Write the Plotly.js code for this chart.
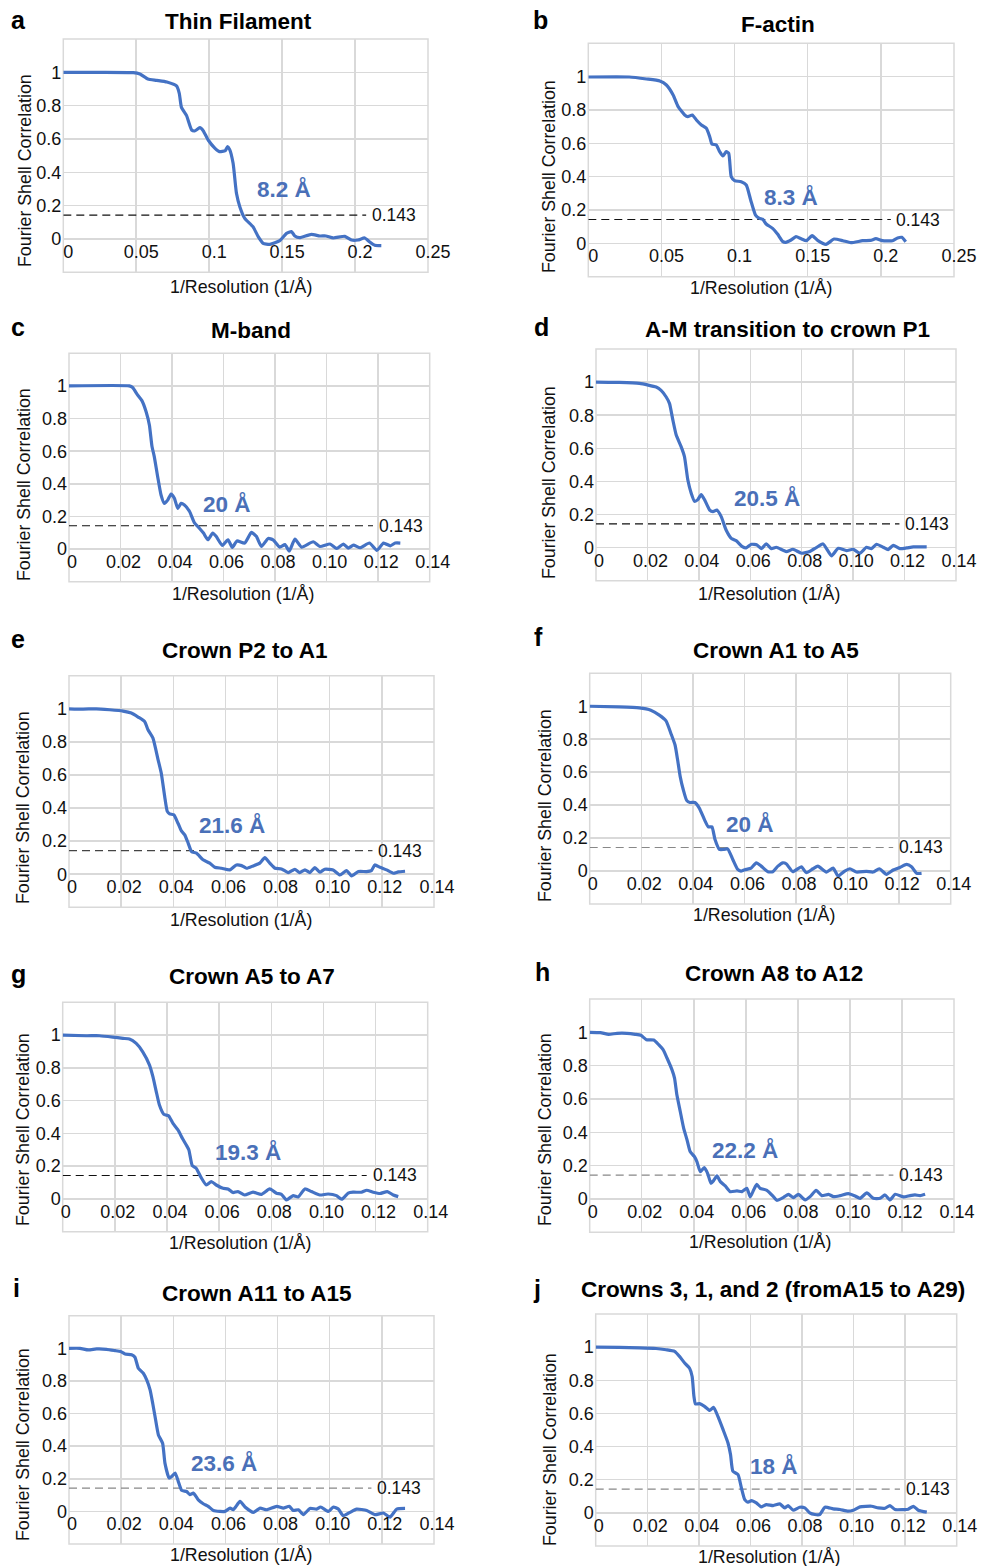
<!DOCTYPE html>
<html>
<head>
<meta charset="utf-8">
<script src="https://cdn.plot.ly/plotly-3.0.1.min.js"></script>
<style>
html,body{margin:0;padding:0;background:#fff;}
#chart{width:981px;height:1566px;}
</style>
</head>
<body>
<div id="chart"></div>
<script>
// ---------------- DATA ----------------
const panelLetters = ['a','b','c','d','e','f','g','h','i','j'];
const panelTitles = ['Thin Filament','F-actin','M-band','A-M transition to crown P1','Crown P2 to A1',
  'Crown A1 to A5','Crown A5 to A7','Crown A8 to A12','Crown A11 to A15','Crowns 3, 1, and 2 (fromA15 to A29)'];
const resolutionLabels = ['8.2 Å','8.3 Å','20 Å','20.5 Å','21.6 Å','20 Å','19.3 Å','22.2 Å','23.6 Å','18 Å'];
const fscThreshold = 0.143;
const thresholdLabel = '0.143';
const xTitle = '1/Resolution (1/Å)';
const yTitle = 'Fourier Shell Correlation';

const xTickValsWide = [0, 0.05, 0.1, 0.15, 0.2, 0.25];
const xTickTextWide = ['0', '0.05', '0.1', '0.15', '0.2', '0.25'];
const xTickValsNarrow = [0, 0.02, 0.04, 0.06, 0.08, 0.10, 0.12, 0.14];
const xTickTextNarrow = ['0', '0.02', '0.04', '0.06', '0.08', '0.10', '0.12', '0.14'];
const yTickVals = [-0.2, 0, 0.2, 0.4, 0.6, 0.8, 1, 1.2];
const yTickText = ['', '0', '0.2', '0.4', '0.6', '0.8', '1', ''];

// a: Thin Filament
const thinFilamentX = [0, 0.025, 0.048, 0.0525, 0.058, 0.064, 0.071, 0.0776, 0.0795, 0.081, 0.0845, 0.088, 0.090, 0.0936, 0.0959, 0.0993, 0.104, 0.107, 0.111, 0.1126, 0.114, 0.1164, 0.1187, 0.121, 0.1244, 0.130, 0.1336, 0.137, 0.1416, 0.1484, 0.153, 0.1564, 0.1587, 0.162, 0.170, 0.1758, 0.180, 0.185, 0.193, 0.1975, 0.202, 0.2066, 0.21, 0.2135, 0.218];
const thinFilamentY = [1.0, 1.0, 0.998, 0.99, 0.96, 0.952, 0.942, 0.918, 0.874, 0.79, 0.74, 0.654, 0.648, 0.668, 0.65, 0.594, 0.544, 0.524, 0.53, 0.554, 0.538, 0.454, 0.274, 0.194, 0.124, 0.074, 0.014, -0.026, -0.032, -0.01, 0.034, 0.044, 0.018, 0.008, 0.028, 0.018, 0.018, 0.006, 0.016, -0.006, -0.006, 0.006, -0.018, -0.038, -0.04];

// b: F-actin
const fActinX = [0, 0.028, 0.0398, 0.0489, 0.0534, 0.058, 0.0614, 0.0659, 0.068, 0.0711, 0.0739, 0.0773, 0.0807, 0.083, 0.0845, 0.0875, 0.0898, 0.092, 0.0943, 0.096, 0.0977, 0.1, 0.1045, 0.108, 0.111, 0.1143, 0.117, 0.1193, 0.1216, 0.126, 0.1295, 0.133, 0.135, 0.1386, 0.142, 0.1455, 0.149, 0.153, 0.157, 0.1625, 0.168, 0.174, 0.1795, 0.1875, 0.193, 0.1966, 0.201, 0.208, 0.2114, 0.2143, 0.217];
const fActinY = [0.998, 0.998, 0.986, 0.974, 0.95, 0.89, 0.82, 0.77, 0.76, 0.77, 0.74, 0.71, 0.69, 0.64, 0.596, 0.59, 0.55, 0.524, 0.55, 0.54, 0.40, 0.376, 0.37, 0.35, 0.26, 0.17, 0.15, 0.144, 0.116, 0.09, 0.054, 0.01, 0.006, 0.02, 0.04, 0.028, 0.016, 0.046, 0.016, -0.006, 0.026, 0.016, 0.004, 0.016, 0.018, 0.028, 0.016, 0.016, 0.032, 0.036, 0.01];

// c: M-band
const mBandX = [0, 0.0234, 0.0247, 0.0266, 0.0283, 0.0299, 0.0312, 0.0322, 0.0331, 0.0344, 0.0357, 0.037, 0.0383, 0.0396, 0.0409, 0.0422, 0.0435, 0.0448, 0.0468, 0.0487, 0.0506, 0.0522, 0.0539, 0.0558, 0.0571, 0.0595, 0.0617, 0.0634, 0.0652, 0.0682, 0.0708, 0.0727, 0.0747, 0.0773, 0.0792, 0.0818, 0.0838, 0.0855, 0.0877, 0.0903, 0.0948, 0.0974, 0.1013, 0.1039, 0.1065, 0.1084, 0.1104, 0.113, 0.1166, 0.1195, 0.1221, 0.1247, 0.1266, 0.1286];
const mBandY = [1.0, 1.0, 0.99, 0.945, 0.91, 0.843, 0.76, 0.63, 0.567, 0.445, 0.333, 0.28, 0.30, 0.337, 0.312, 0.25, 0.28, 0.27, 0.23, 0.16, 0.128, 0.098, 0.057, 0.098, 0.078, 0.022, 0.057, 0.01, 0.05, 0.037, 0.102, 0.078, 0.016, 0.065, 0.057, 0.012, 0.027, -0.012, 0.061, 0.012, 0.045, 0.016, 0.031, 0.004, 0.031, 0.006, 0.024, 0.008, 0.037, -0.008, 0.037, 0.02, 0.037, 0.037];

// d: A-M transition to crown P1
const amTransitionX = [0, 0.0091, 0.0169, 0.0234, 0.0253, 0.0273, 0.0286, 0.0299, 0.0312, 0.0331, 0.0344, 0.0357, 0.037, 0.0383, 0.0396, 0.0409, 0.0422, 0.0442, 0.0455, 0.047, 0.0487, 0.0506, 0.0526, 0.0545, 0.0569, 0.0584, 0.0604, 0.0626, 0.0643, 0.0662, 0.0682, 0.0701, 0.074, 0.0766, 0.0799, 0.0831, 0.0857, 0.0883, 0.0916, 0.0942, 0.0974, 0.1, 0.1026, 0.1052, 0.1071, 0.1091, 0.1117, 0.1136, 0.1156, 0.1182, 0.1208, 0.1234, 0.1286];
const amTransitionY = [1.0, 0.998, 0.992, 0.97, 0.95, 0.91, 0.87, 0.77, 0.68, 0.61, 0.55, 0.41, 0.33, 0.28, 0.29, 0.32, 0.29, 0.227, 0.217, 0.227, 0.187, 0.106, 0.056, 0.042, 0.006, -0.002, 0.02, 0.016, -0.006, 0.022, -0.006, 0.002, -0.024, -0.01, -0.034, -0.024, 0, 0.022, -0.05, -0.004, -0.018, -0.01, -0.034, 0.002, -0.006, 0.02, 0.002, -0.012, 0.014, -0.006, -0.002, 0.004, 0.004];

// e: Crown P2 to A1
const crownP2A1X = [0, 0.0054, 0.0105, 0.0156, 0.0207, 0.0239, 0.0265, 0.029, 0.0303, 0.0322, 0.0342, 0.0354, 0.0367, 0.0377, 0.0386, 0.0402, 0.0418, 0.0431, 0.0444, 0.0457, 0.047, 0.0489, 0.0514, 0.054, 0.0559, 0.0585, 0.0617, 0.0642, 0.0662, 0.0681, 0.0706, 0.0732, 0.0751, 0.077, 0.079, 0.0815, 0.0841, 0.0866, 0.0885, 0.0905, 0.0924, 0.0943, 0.0962, 0.0981, 0.1013, 0.1039, 0.1065, 0.1084, 0.111, 0.1141, 0.116, 0.1173, 0.1193, 0.1218, 0.1244, 0.1263, 0.1289];
const crownP2A1Y = [1.0, 0.998, 1.0, 0.994, 0.986, 0.974, 0.95, 0.923, 0.873, 0.823, 0.69, 0.61, 0.47, 0.38, 0.365, 0.359, 0.308, 0.262, 0.238, 0.188, 0.137, 0.127, 0.087, 0.067, 0.042, 0.036, 0.026, 0.056, 0.052, 0.036, 0.05, 0.067, 0.1, 0.067, 0.036, 0.032, 0.01, 0.03, 0.01, 0.026, 0.01, 0.04, 0.012, 0.03, 0.026, -0.004, 0.022, -0.01, 0.016, 0.016, 0.022, 0.056, 0.042, 0.026, 0.006, 0.014, 0.018];

// f: Crown A1 to A5
const crownA1A5X = [0, 0.0114, 0.0192, 0.0237, 0.027, 0.0296, 0.0315, 0.0331, 0.0341, 0.0351, 0.0363, 0.0376, 0.0389, 0.0408, 0.0425, 0.0445, 0.046, 0.0474, 0.0486, 0.0503, 0.0519, 0.0535, 0.0555, 0.0574, 0.0587, 0.0607, 0.0626, 0.0646, 0.0665, 0.0691, 0.071, 0.073, 0.0749, 0.0762, 0.0788, 0.0821, 0.084, 0.0866, 0.0885, 0.0918, 0.0944, 0.0963, 0.0989, 0.1009, 0.1034, 0.1073, 0.1099, 0.1123, 0.1151, 0.1177, 0.1203, 0.1229, 0.1248, 0.1268, 0.1287];
const crownA1A5Y = [1.0, 0.996, 0.99, 0.976, 0.946, 0.911, 0.835, 0.765, 0.674, 0.573, 0.493, 0.429, 0.416, 0.416, 0.382, 0.312, 0.268, 0.268, 0.191, 0.131, 0.131, 0.135, 0.07, 0.01, 0, 0.01, 0.018, 0.05, 0.03, -0.004, -0.004, 0.03, 0.05, 0.044, -0.004, 0.026, -0.01, 0.014, 0.03, -0.006, 0.018, -0.03, 0, 0.014, -0.006, -0.002, -0.006, 0.014, -0.02, 0.006, 0.022, 0.04, 0.026, -0.014, -0.014];

// g: Crown A5 to A7
const crownA5A7X = [0, 0.009, 0.0141, 0.0192, 0.0231, 0.0256, 0.0282, 0.0307, 0.0333, 0.0346, 0.0359, 0.0371, 0.0388, 0.0406, 0.0423, 0.0442, 0.0459, 0.0474, 0.0484, 0.0497, 0.0512, 0.0529, 0.0551, 0.057, 0.0589, 0.0615, 0.0634, 0.0653, 0.0672, 0.0698, 0.073, 0.0762, 0.0794, 0.082, 0.0839, 0.0858, 0.0884, 0.0903, 0.0929, 0.0954, 0.0986, 0.1018, 0.105, 0.107, 0.1095, 0.1114, 0.1146, 0.1166, 0.1191, 0.1217, 0.1245, 0.1268, 0.1287];
const crownA5A7Y = [1.0, 0.996, 0.996, 0.988, 0.98, 0.976, 0.949, 0.898, 0.817, 0.746, 0.654, 0.573, 0.516, 0.508, 0.461, 0.421, 0.37, 0.329, 0.299, 0.203, 0.187, 0.136, 0.085, 0.106, 0.085, 0.065, 0.061, 0.039, 0.045, 0.024, 0.041, 0.028, 0.061, 0.035, 0.028, -0.006, 0.02, 0.012, 0.061, 0.045, 0.024, 0.03, 0.02, -0.002, 0.035, 0.041, 0.041, 0.053, 0.041, 0.033, 0.045, 0.024, 0.014];

// h: Crown A8 to A12
const crownA8A12X = [0, 0.0041, 0.0073, 0.0105, 0.0143, 0.0175, 0.0197, 0.0218, 0.0246, 0.0265, 0.0282, 0.0297, 0.0316, 0.0326, 0.0335, 0.0348, 0.0361, 0.0374, 0.0386, 0.0402, 0.0412, 0.0425, 0.044, 0.0453, 0.0466, 0.0476, 0.0489, 0.0502, 0.0521, 0.054, 0.0566, 0.0585, 0.0604, 0.0617, 0.063, 0.0642, 0.0655, 0.0681, 0.0706, 0.0719, 0.0745, 0.0764, 0.0783, 0.0802, 0.0828, 0.0847, 0.087, 0.0892, 0.0918, 0.0937, 0.0962, 0.0994, 0.102, 0.1039, 0.1065, 0.109, 0.1116, 0.1135, 0.1154, 0.1174, 0.1206, 0.1231, 0.125, 0.127, 0.1289];
const crownA8A12Y = [1.0, 0.998, 0.988, 0.994, 0.994, 0.988, 0.982, 0.956, 0.954, 0.926, 0.896, 0.846, 0.776, 0.725, 0.625, 0.525, 0.425, 0.355, 0.285, 0.255, 0.224, 0.164, 0.188, 0.154, 0.094, 0.11, 0.138, 0.104, 0.078, 0.044, 0.048, 0.044, 0.064, 0.012, 0.054, 0.088, 0.064, 0.052, 0.014, -0.008, 0.01, 0.028, 0.008, 0.028, -0.006, 0.014, 0.052, 0.02, 0.028, 0.014, 0.02, 0.032, 0.018, 0.004, 0.036, 0.004, 0.004, 0.024, -0.006, 0.028, 0.012, 0.02, 0.024, 0.02, 0.028];

// i: Crown A11 to A15
const crownA11A15X = [0, 0.0042, 0.0074, 0.0106, 0.0144, 0.0176, 0.0198, 0.0215, 0.024, 0.0253, 0.0266, 0.0285, 0.0298, 0.0311, 0.0321, 0.033, 0.0343, 0.0359, 0.0368, 0.0384, 0.0394, 0.0407, 0.0419, 0.0432, 0.0451, 0.0464, 0.0477, 0.0496, 0.0515, 0.0534, 0.0554, 0.0579, 0.0598, 0.0618, 0.063, 0.0656, 0.0675, 0.0707, 0.0733, 0.0758, 0.0797, 0.0822, 0.0845, 0.086, 0.088, 0.0899, 0.0924, 0.095, 0.0965, 0.0995, 0.1014, 0.1033, 0.1052, 0.1078, 0.1103, 0.1142, 0.1174, 0.1206, 0.1231, 0.1257, 0.1289];
const crownA11A15Y = [1.0, 1.0, 0.99, 0.996, 0.994, 0.986, 0.98, 0.965, 0.961, 0.945, 0.878, 0.847, 0.806, 0.745, 0.663, 0.582, 0.469, 0.418, 0.296, 0.204, 0.214, 0.235, 0.184, 0.129, 0.122, 0.102, 0.112, 0.071, 0.047, 0.031, 0.006, 0, 0, 0.02, 0.01, 0.061, 0.027, -0.006, 0.02, 0.01, 0.031, 0.02, 0.031, 0.006, 0.01, -0.02, 0.018, 0.014, 0.027, 0, 0.027, 0.014, -0.027, -0.006, 0.014, 0.006, -0.02, -0.01, -0.035, 0.014, 0.018];

// j: Crowns 3, 1, and 2
const crowns312X = [0, 0.0092, 0.017, 0.0234, 0.0273, 0.0306, 0.0325, 0.0345, 0.0364, 0.0374, 0.0381, 0.0387, 0.0403, 0.0422, 0.0442, 0.0457, 0.0474, 0.0494, 0.0513, 0.0523, 0.0532, 0.0552, 0.0565, 0.0578, 0.0591, 0.0604, 0.0623, 0.0642, 0.0662, 0.0688, 0.0714, 0.0733, 0.0746, 0.0766, 0.0791, 0.0811, 0.083, 0.085, 0.0869, 0.0889, 0.0921, 0.0947, 0.0979, 0.0999, 0.1025, 0.107, 0.1096, 0.1122, 0.1141, 0.1161, 0.1193, 0.1212, 0.1232, 0.1251, 0.1284];
const crowns312Y = [1.0, 0.998, 0.996, 0.992, 0.984, 0.974, 0.944, 0.904, 0.873, 0.823, 0.703, 0.657, 0.659, 0.643, 0.618, 0.637, 0.582, 0.502, 0.422, 0.351, 0.251, 0.231, 0.151, 0.08, 0.064, 0.074, 0.06, 0.036, 0.05, 0.044, 0.054, 0.03, 0.044, 0.016, 0.034, 0.03, 0, -0.01, -0.01, 0.034, 0.024, 0.02, 0.01, 0.016, 0.036, 0.04, 0.03, 0.028, 0.044, 0.02, 0.02, 0.022, 0.04, 0.016, 0.004];

const seriesX = [thinFilamentX, fActinX, mBandX, amTransitionX, crownP2A1X, crownA1A5X, crownA5A7X, crownA8A12X, crownA11A15X, crowns312X];
const seriesY = [thinFilamentY, fActinY, mBandY, amTransitionY, crownP2A1Y, crownA1A5Y, crownA5A7Y, crownA8A12Y, crownA11A15Y, crowns312Y];
// x where the dashed 0.143 line stops and the label begins
const thresholdLineEnd = [0.2076, 0.2068, 0.118, 0.118, 0.1164, 0.1177, 0.1166, 0.1167, 0.116, 0.118];

// ---------------- LAYOUT CONFIG (pixels) ----------------
const W = 981, H = 1566;
const FONT = 'Liberation Sans, Arial, Helvetica, sans-serif';
const boxes = [ // left, right, top, bottom (plot frame, px)
  [63.3, 428, 39, 272.3],
  [588.3, 954, 43.3, 276.7],
  [69, 429.7, 353.3, 581.7],
  [596, 956, 349, 580.7],
  [69, 434, 675.7, 907.3],
  [589.7, 950.7, 673.3, 904],
  [62.7, 427.7, 1002.3, 1231.7],
  [589.7, 954, 999, 1232.3],
  [69, 434, 1315.7, 1544],
  [595.7, 956.7, 1314, 1546]
];
const titlePos = [[238,22],[778,25],[251,330],[787,329],[244,651],[776,651],[252,976],[774,974],[257,1293],[773,1289]];
const letterPos = [[18,20],[540,20],[18,327],[541,327],[18,639],[538,637],[18,974],[542,972],[16,1288],[537,1289]];
const xTitlePos = [[241,287],[761,288],[243,594],[769,594],[241,920],[764,915],[240,1243],[760,1242],[241,1555],[769,1557]];
const yTitlePos = [[25,171],[549,177],[24,485],[549,483],[23,808],[545,806],[23,1130],[545,1130],[23,1445],[550,1450]];
const resLabelPos = [[0.151,0.30],[0.1386,0.278],[0.0615,0.277],[0.0665,0.30],[0.0625,0.298],[0.0622,0.283],[0.0711,0.287],[0.0597,0.295],[0.0593,0.298],[0.069,0.285]];
const dashColors = ['#111','#111','#111','#111','#444','#888','#111','#888','#888','#888'];

const BLUE = '#4472C4';
const GRID = '#d9d9d9';
const Y_RANGE = [-0.2, 1.2];
const TICK_SIZE = 18, AXT_SIZE = 17.8;

const traces = [];
const layout = {
  width: W, height: H,
  margin: {l:0, r:0, t:0, b:0},
  paper_bgcolor: '#fff', plot_bgcolor: '#fff',
  showlegend: false,
  font: {family: FONT, size: 17, color: '#111'},
  annotations: [], shapes: []
};

const px = x => x / W;
const py = y => 1 - y / H;

for (let i = 0; i < 10; i++) {
  const n = i === 0 ? '' : String(i + 1);
  const xa = 'x' + n, ya = 'y' + n;
  const wide = i < 2;
  const [L, R, T, B] = boxes[i];
  const yDom = [py(B), py(T)];
  const zeroFrac = (0 - Y_RANGE[0]) / (Y_RANGE[1] - Y_RANGE[0]);
  const xRange = wide ? [0, 0.25] : [0, 0.14];

  layout['xaxis' + n] = {
    domain: [px(L), px(R)],
    range: xRange,
    anchor: 'free',
    position: yDom[0] + (yDom[1] - yDom[0]) * zeroFrac,
    tickmode: 'array',
    tickvals: wide ? xTickValsWide : xTickValsNarrow,
    ticktext: wide ? xTickTextWide : xTickTextNarrow,
    showgrid: true, gridcolor: GRID, gridwidth: 1.5,
    zeroline: false, showline: false, ticks: '',
    ticklabelshift: wide ? 5 : 3,
    ticklabelstandoff: 0,
    tickfont: {family: FONT, size: TICK_SIZE, color: '#111'},
    fixedrange: true
  };
  layout['yaxis' + n] = {
    domain: yDom,
    range: Y_RANGE,
    anchor: xa,
    tickmode: 'array',
    tickvals: yTickVals, ticktext: yTickText,
    showgrid: true, gridcolor: GRID, gridwidth: 1.5,
    zeroline: false, showline: false, ticks: '',
    ticklabelstandoff: 1,
    tickfont: {family: FONT, size: TICK_SIZE, color: '#111'},
    fixedrange: true
  };

  // frame
  layout.shapes.push({type: 'rect', xref: xa + ' domain', yref: ya + ' domain', x0: 0, x1: 1, y0: 0, y1: 1,
    line: {color: GRID, width: 1.5}, layer: 'below'});

  // threshold dashed line
  traces.push({
    type: 'scatter', mode: 'lines', xaxis: xa, yaxis: ya,
    x: [0, thresholdLineEnd[i]], y: [fscThreshold, fscThreshold],
    line: {color: dashColors[i], width: 1.2, dash: '8px,5px'},
    hoverinfo: 'skip'
  });
  // FSC curve
  traces.push({
    type: 'scatter', mode: 'lines', xaxis: xa, yaxis: ya,
    x: seriesX[i], y: seriesY[i],
    line: {color: BLUE, width: 3.2, shape: 'spline', smoothing: 0.5},
    name: panelTitles[i]
  });

  // threshold label
  layout.annotations.push({xref: xa, yref: ya, x: thresholdLineEnd[i] + (wide ? 0.0025 : 0.0015), y: fscThreshold,
    text: thresholdLabel, showarrow: false, xanchor: 'left', yanchor: 'middle',
    font: {family: FONT, size: 17.5, color: '#111'}});
  // resolution label
  layout.annotations.push({xref: xa, yref: ya, x: resLabelPos[i][0], y: resLabelPos[i][1],
    text: resolutionLabels[i], showarrow: false, xanchor: 'center', yanchor: 'middle',
    font: {family: FONT, size: 22.5, color: '#4a70b8', weight: 700}});
  // panel title
  layout.annotations.push({xref: 'paper', yref: 'paper', x: px(titlePos[i][0]), y: py(titlePos[i][1]),
    text: panelTitles[i], showarrow: false, xanchor: 'center', yanchor: 'middle',
    font: {family: FONT, size: 22.5, color: '#000', weight: 700}});
  // panel letter
  layout.annotations.push({xref: 'paper', yref: 'paper', x: px(letterPos[i][0]), y: py(letterPos[i][1]),
    text: panelLetters[i], showarrow: false, xanchor: 'center', yanchor: 'middle',
    font: {family: FONT, size: 25, color: '#000', weight: 700}});
  // x title
  layout.annotations.push({xref: 'paper', yref: 'paper', x: px(xTitlePos[i][0]), y: py(xTitlePos[i][1]),
    text: xTitle, showarrow: false, xanchor: 'center', yanchor: 'middle',
    font: {family: FONT, size: AXT_SIZE, color: '#111'}});
  // y title
  layout.annotations.push({xref: 'paper', yref: 'paper', x: px(yTitlePos[i][0]), y: py(yTitlePos[i][1]),
    text: yTitle, showarrow: false, xanchor: 'center', yanchor: 'middle', textangle: -90,
    font: {family: FONT, size: AXT_SIZE, color: '#111'}});
}

Plotly.newPlot('chart', traces, layout, {displayModeBar: false, staticPlot: true});
</script>
</body>
</html>
